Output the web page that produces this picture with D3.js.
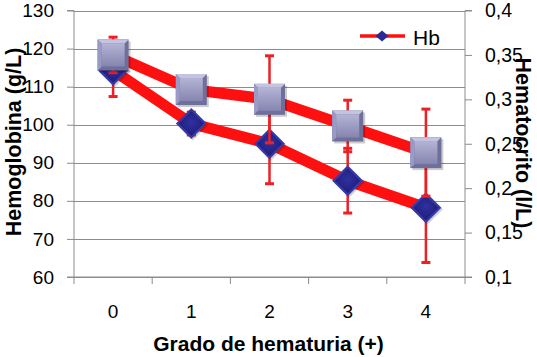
<!DOCTYPE html>
<html><head><meta charset="utf-8">
<script src="https://cdn.jsdelivr.net/npm/d3@7"></script>
<style>
html,body{margin:0;padding:0;background:#fff;}
svg{display:block;}
text{font-family:"Liberation Sans",Arial,sans-serif;fill:#000;}
</style></head>
<body>
<svg id="chart" width="537" height="357"></svg>
<script>
const categories = ["0","1","2","3","4"];
const hbValues = [114.3, 100.3, 95, 85.3, 78.2];
const hbErrors = [6.9, 3, 10.5, 8.5, 14.4];
const hctValues = [0.350, 0.311, 0.300, 0.270, 0.240];
const hctErrors = [0.020, 0.010, 0.049, 0.029, 0.049];
const leftTicks = [60,70,80,90,100,110,120,130];
const rightTicks = [0.1,0.15,0.2,0.25,0.3,0.35,0.4];
const seriesName = "Hb";
const xTitle = "Grado de hematuria (+)";
const leftTitle = "Hemoglobina (g/L)";
const rightTitle = "Hematocrito (l/L)";

const svg = d3.select("#chart");
const L = 74, R = 465, T = 10.5, B = 277;

const x = d3.scaleBand().domain(categories).range([L, R]).padding(0);
const yL = d3.scaleLinear().domain([60,130]).range([B, T]);
const yR = d3.scaleLinear().domain([0.1,0.4]).range([B, T]);

const defs = svg.append("defs");
const sq = defs.append("linearGradient").attr("id","sqg").attr("x1",0).attr("y1",0).attr("x2",0).attr("y2",1);
sq.append("stop").attr("offset","0%").attr("stop-color","#b4b4d6");
sq.append("stop").attr("offset","100%").attr("stop-color","#8585b0");
const dg = defs.append("radialGradient").attr("id","dmg").attr("cx","50%").attr("cy","45%").attr("r","60%");
dg.append("stop").attr("offset","0%").attr("stop-color","#3030a0");
dg.append("stop").attr("offset","100%").attr("stop-color","#1c1c78");

// gridlines
svg.append("g").selectAll("line").data(leftTicks).join("line")
  .attr("x1", L).attr("x2", R)
  .attr("y1", d => Math.round(yL(d)) + 0.5).attr("y2", d => Math.round(yL(d)) + 0.5)
  .attr("stroke", "#8c8c8c").attr("stroke-width", 1);

// left axis
const gL = svg.append("g").attr("transform", `translate(${L},0)`)
  .call(d3.axisLeft(yL).tickValues(leftTicks).tickSize(7).tickPadding(13).tickFormat(d3.format("d")));
gL.selectAll("text").style("font-size","19px");
// right axis
const fmtR = d => String(+d.toFixed(2)).replace(".", ",");
const gR = svg.append("g").attr("transform", `translate(${R},0)`)
  .call(d3.axisRight(yR).tickValues(rightTicks).tickSize(7).tickPadding(13).tickFormat(fmtR));
gR.selectAll("text").style("font-size","19.5px");
// bottom axis
const gB = svg.append("g").attr("transform", `translate(0,${B})`)
  .call(d3.axisBottom(x).tickSize(0).tickPadding(28));
gB.selectAll("text").style("font-size","19px");
const bounds = categories.map(c => x(c)).concat([x(categories[categories.length-1]) + x.bandwidth()]);
gB.selectAll(".btick").data(bounds).join("line").attr("class","btick")
  .attr("x1", d => d).attr("x2", d => d).attr("y1", 0).attr("y2", 7)
  .attr("stroke", "#8c8c8c");
[gL, gR, gB].forEach(g => {
  g.selectAll(".domain").attr("stroke","#8c8c8c");
  g.selectAll(".tick line").attr("stroke","#8c8c8c");
});
gL.select(".domain").attr("d", `M-7,${T}H0V${B}H-7`);
gR.select(".domain").attr("d", `M7,${T}H0V${B}H7`);
gB.select(".domain").attr("d", `M${L},0H${R}`);

// titles
svg.append("text").attr("transform", `translate(${(L+R)/2 - 1},350.5)`)
  .attr("text-anchor","middle").style("font-size","21px").style("font-weight","bold").text(xTitle);
svg.append("text").attr("transform", `translate(20.5,142) rotate(-90)`)
  .attr("text-anchor","middle").style("font-size","21.5px").style("font-weight","bold").text(leftTitle);
svg.append("text").attr("transform", `translate(516,143) rotate(90)`)
  .attr("text-anchor","middle").style("font-size","21.5px").style("font-weight","bold").text(rightTitle);

const cx = d => x(d) + x.bandwidth()/2;
const hbData = categories.map((c,i) => ({c, v: hbValues[i], e: hbErrors[i]}));
const hctData = categories.map((c,i) => ({c, v: hctValues[i], e: hctErrors[i]}));

// lines
svg.append("path").datum(hctData)
  .attr("d", d3.line().x(d => cx(d.c)).y(d => yR(d.v)))
  .attr("fill","none").attr("stroke","#ff1010").attr("stroke-width",11).attr("stroke-linejoin","round");
svg.append("path").datum(hbData)
  .attr("d", d3.line().x(d => cx(d.c)).y(d => yL(d.v)))
  .attr("fill","none").attr("stroke","#ff1010").attr("stroke-width",11).attr("stroke-linejoin","round");

function errBars(g, data, yS) {
  data.forEach(d => {
    const px = cx(d.c), y1 = yS(d.v - d.e), y2 = yS(d.v + d.e);
    g.append("line").attr("x1",px).attr("x2",px).attr("y1",y1).attr("y2",y2);
    g.append("line").attr("x1",px-4.5).attr("x2",px+4.5).attr("y1",y1).attr("y2",y1).attr("stroke-width",3);
    g.append("line").attr("x1",px-4.5).attr("x2",px+4.5).attr("y1",y2).attr("y2",y2).attr("stroke-width",3);
  });
}
// Hb error bars (below diamonds)
errBars(svg.append("g").attr("stroke","#ec2025").attr("stroke-width",2.5), hbData, yL);

// diamonds
const dia = (px, py, h, w) => `M${px},${py-h}L${px+w},${py}L${px},${py+h}L${px-w},${py}Z`;
const dG = svg.append("g");
hbData.forEach(d => {
  const px = cx(d.c), py = yL(d.v);
  dG.append("path").attr("d", dia(px+1.5, py+1.5, 15.5, 15.5)).attr("fill","rgba(0,0,0,0.18)");
  dG.append("path").attr("d", dia(px, py, 15.5, 15.5)).attr("fill","#3a3aa6");
  dG.append("path").attr("d", dia(px, py, 12.5, 12.5)).attr("fill","url(#dmg)");
});

// Hct error bars (above diamonds)
errBars(svg.append("g").attr("stroke","#ec2025").attr("stroke-width",2.5), hctData, yR);

// squares
const sG = svg.append("g");
hctData.forEach(d => {
  const px = cx(d.c), py = yR(d.v), s = 15.5;
  sG.append("rect").attr("x",px-s+2).attr("y",py-s+2).attr("width",2*s).attr("height",2*s).attr("fill","rgba(0,0,0,0.2)");
  sG.append("rect").attr("x",px-s).attr("y",py-s).attr("width",2*s).attr("height",2*s).attr("fill","#6f6f9c");
  sG.append("path").attr("d",`M${px-s},${py-s}H${px+s}L${px+s-4},${py-s+4}H${px-s+4}Z`).attr("fill","#c4c4e2");
  sG.append("path").attr("d",`M${px-s},${py-s}L${px-s+4},${py-s+4}V${py+s-4}L${px-s},${py+s}Z`).attr("fill","#9a9ac6");
  sG.append("rect").attr("x",px-s+4).attr("y",py-s+4).attr("width",2*s-8).attr("height",2*s-8).attr("fill","url(#sqg)");
});

// legend
const lg = svg.append("g");
lg.append("line").attr("x1",360).attr("x2",405).attr("y1",36).attr("y2",36).attr("stroke","#ff1010").attr("stroke-width",3.5);
lg.append("path").attr("d", dia(382, 36, 5.5, 6.5)).attr("fill","#2a2a96");
lg.append("text").attr("x",413).attr("y",45).style("font-size","21px").text(seriesName);
</script>
</body></html>
